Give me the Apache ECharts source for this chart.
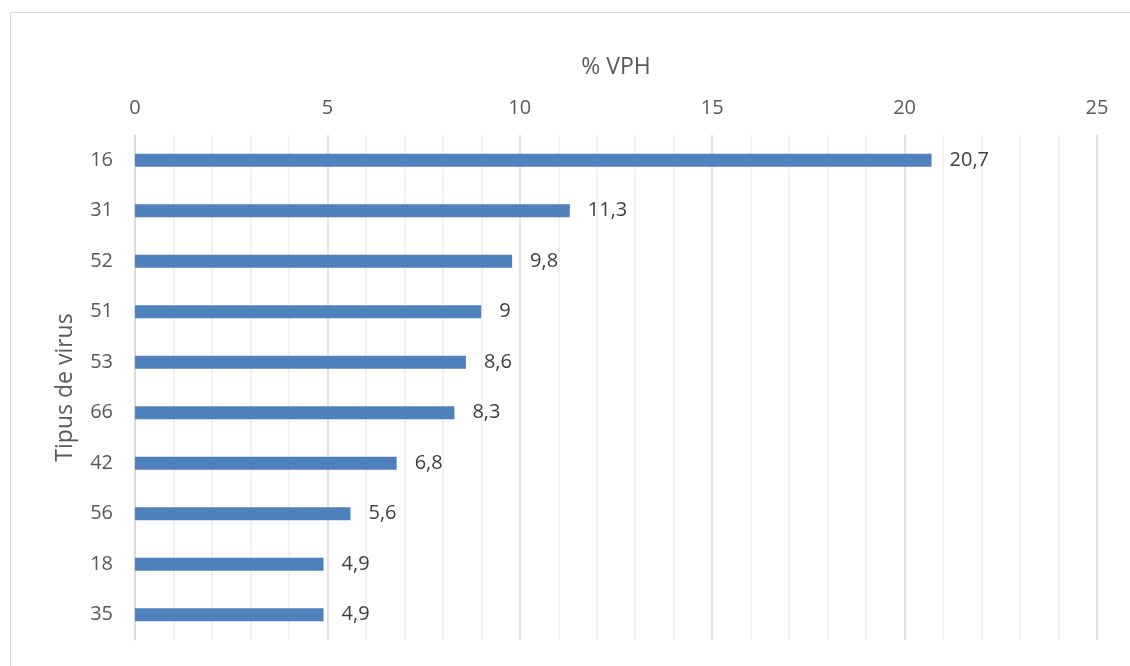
<!DOCTYPE html>
<html>
<head>
<meta charset="utf-8">
<script src="https://cdn.jsdelivr.net/npm/echarts@6/dist/echarts.min.js"></script>
<style>
  html, body { margin: 0; padding: 0; background: #ffffff; }
  #chart { width: 1130px; height: 666px; }
</style>
</head>
<body>
<div id="chart"></div>
<script>
// HPV types, ordered by prevalence
const categories = ['16', '31', '52', '51', '53', '66', '42', '56', '18', '35'];
const percentValues = [20.7, 11.3, 9.8, 9, 8.6, 8.3, 6.8, 5.6, 4.9, 4.9];
const valueTicks = [0, 5, 10, 15, 20, 25];

const FONT = "'Open Sans', 'Liberation Sans', sans-serif";
const TEXT = '#595959';
const FS = 20;
const TITLE_FS = 23;

const chart = echarts.init(document.getElementById('chart'), null, { renderer: 'canvas' });

chart.setOption({
  backgroundColor: '#ffffff',
  animation: false,
  graphic: [{
    type: 'rect',
    left: 8, top: 10,
    shape: { width: 1140, height: 680 },
    style: { fill: 'none', stroke: '#d9d9d9', lineWidth: 1 },
    silent: true
  }],
  grid: { left: 135, right: 33, top: 135, bottom: 26, containLabel: false },
  xAxis: {
    type: 'value',
    position: 'top',
    min: valueTicks[0],
    max: valueTicks[valueTicks.length - 1],
    interval: 5,
    name: '% VPH',
    nameLocation: 'middle',
    nameGap: 56,
    nameTextStyle: { color: TEXT, fontSize: TITLE_FS, fontFamily: FONT },
    axisLine: { show: false },
    axisTick: { show: false },
    axisLabel: { color: TEXT, fontSize: FS, fontFamily: FONT, margin: 17 },
    splitLine: { show: true, lineStyle: { color: '#d9d9d9', width: 1.5 } },
    minorTick: { show: false, splitNumber: 5 },
    minorSplitLine: { show: true, lineStyle: { color: '#eeeeee', width: 1.5 } }
  },
  yAxis: {
    type: 'category',
    data: categories,
    inverse: true,
    name: 'Tipus de virus',
    nameLocation: 'middle',
    nameGap: 58,
    nameRotate: 90,
    nameTextStyle: { color: TEXT, fontSize: TITLE_FS, fontFamily: FONT },
    axisLine: { show: true, lineStyle: { color: '#d9d9d9', width: 1.5 } },
    axisTick: { show: false },
    axisLabel: { color: TEXT, fontSize: FS, fontFamily: FONT, margin: 22 },
    splitLine: { show: false }
  },
  series: [{
    type: 'bar',
    data: percentValues,
    barWidth: 13,
    itemStyle: { color: '#4f81bd' },
    label: {
      show: true,
      position: 'right',
      distance: 18,
      color: '#404040',
      fontSize: FS,
      fontFamily: FONT,
      formatter: p => String(p.value).replace('.', ',')
    }
  }]
});
</script>
</body>
</html>
